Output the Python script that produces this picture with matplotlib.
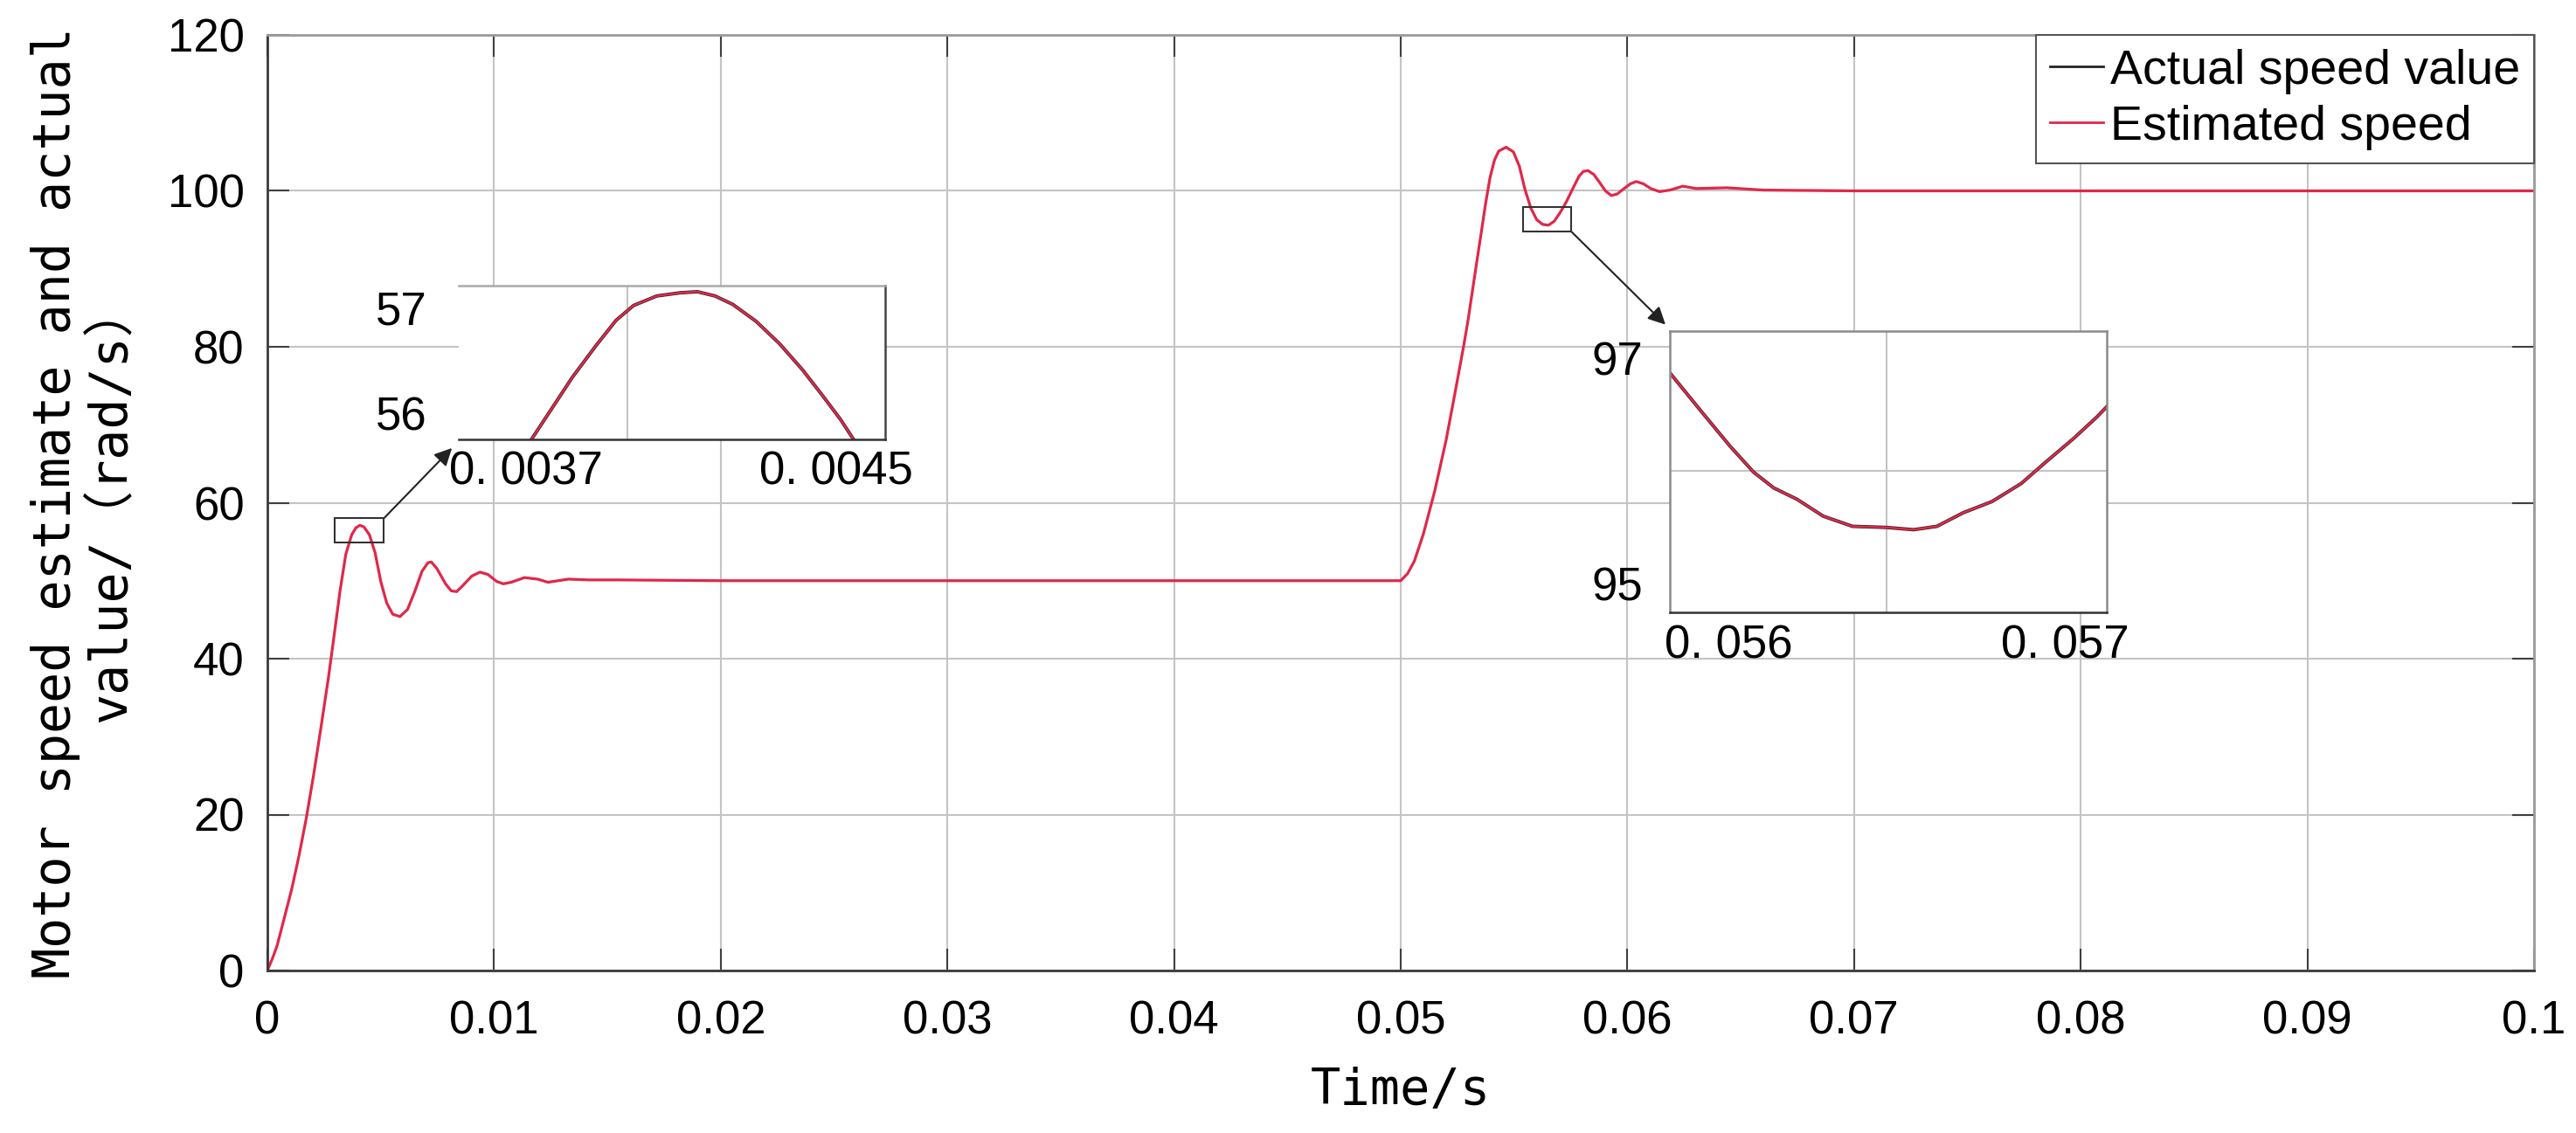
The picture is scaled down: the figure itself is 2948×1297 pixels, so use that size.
import matplotlib.pyplot as plt
import numpy as np
from matplotlib.patches import Rectangle
from matplotlib.lines import Line2D

plt.rcParams['font.family'] = ['Liberation Sans', 'DejaVu Sans']

# main curve (time in ms, speed in rad/s)
time_ms = [0, 0.23, 0.43, 0.75, 1.07, 1.40, 1.72, 2.04, 2.36, 2.69, 2.95, 3.20, 3.46, 3.72,
           3.91, 4.08, 4.26, 4.50, 4.75, 5.01, 5.27, 5.53, 5.85, 6.18, 6.50, 6.82, 7.08, 7.23,
           7.47, 7.86, 8.11, 8.35, 8.63, 9.02, 9.38, 9.73, 10.12, 10.41, 10.76, 11.34, 11.92,
           12.38, 13.28, 14.19, 15.48, 20, 30, 40,
           50, 50.3, 50.6, 51.0, 51.5, 52.0, 52.39, 52.58, 52.77, 52.97, 53.16, 53.35, 53.55,
           53.74, 53.94, 54.13, 54.32, 54.65, 54.97, 55.23, 55.48, 55.74, 56.0, 56.26, 56.52,
           56.77, 57.03, 57.29, 57.61, 57.87, 58.06, 58.26, 58.52, 58.77, 59.03, 59.29, 59.55,
           59.81, 60.13, 60.39, 60.71, 61.03, 61.42, 61.87, 62.45, 63.03, 64.39, 66.0, 70, 80,
           90, 100]
speed = [0, 1.6, 3.2, 6.8, 10.4, 14.8, 19.6, 25.1, 31.1, 37.5, 43.1, 48.6, 53.4, 55.9,
         56.8, 57.1, 56.9, 55.9, 53.6, 49.8, 47.1, 45.7, 45.4, 46.3, 48.6, 51.2, 52.3, 52.4,
         51.6, 49.6, 48.7, 48.6, 49.4, 50.6, 51.1, 50.8, 49.9, 49.6, 49.8, 50.4, 50.2,
         49.8, 50.2, 50.1, 50.1, 50, 50, 50,
         50, 50.9, 52.5, 56.0, 61.5, 68.0, 74.0, 77.0, 80.0, 83.4, 87.1, 90.8, 94.6,
         98.3, 101.7, 103.9, 105.1, 105.6, 105.0, 103.2, 100.2, 97.8, 96.3, 95.7, 95.6,
         96.1, 97.2, 98.5, 100.4, 101.9, 102.5, 102.6, 102.1, 101.1, 100.0, 99.4, 99.6,
         100.2, 100.9, 101.2, 100.9, 100.3, 99.9, 100.1, 100.6, 100.3, 100.4, 100.1, 100, 100,
         100, 100]

# zoom 1 (first overshoot), time in s
z1_time = [0.003714, 0.003767, 0.003819, 0.00388, 0.003932, 0.003977, 0.004037, 0.004097,
           0.004142, 0.004187, 0.004233, 0.004293, 0.004353, 0.004413, 0.004466, 0.004511, 0.004544]
z1_speed = [55.755, 56.05, 56.34, 56.64, 56.88, 57.02, 57.11, 57.14,
            57.15, 57.11, 57.03, 56.87, 56.66, 56.41, 56.16, 55.94, 55.755]

# zoom 2 (second undershoot), time in s
z2_time = [0.055826, 0.055919, 0.056005, 0.056075, 0.056135, 0.056204, 0.056282, 0.056369, 0.056471,
           0.056551, 0.05662, 0.056698, 0.056784, 0.056871, 0.05694, 0.057027, 0.057096, 0.057125]
z2_speed = [96.87, 96.53, 96.22, 95.99, 95.85, 95.75, 95.60, 95.51, 95.50,
            95.48, 95.51, 95.63, 95.73, 95.89, 96.07, 96.29, 96.48, 96.57]

labels = ['Actual speed value', 'Estimated speed']
xticks = [0, 0.01, 0.02, 0.03, 0.04, 0.05, 0.06, 0.07, 0.08, 0.09, 0.1]
xtick_labels = ['0', '0.01', '0.02', '0.03', '0.04', '0.05', '0.06', '0.07', '0.08', '0.09', '0.1']
yticks = [0, 20, 40, 60, 80, 100, 120]

RED = '#e0284a'
BLK = '#222222'
GRID = '#c4c4c4'
W, H = 2948, 1297
t = np.array(time_ms) / 1000

fig = plt.figure(figsize=(W / 100, H / 100), dpi=100)
ax = fig.add_axes([306 / W, 1 - 1111 / H, 2594 / W, 1071 / H])

ax.plot(t, speed, color=BLK, lw=1.2, label=labels[0])
ax.plot(t, speed, color=RED, lw=2.3, label=labels[1])
ax.set_xlim(0, 0.1)
ax.set_ylim(0, 120)
ax.set_xticks(xticks)
ax.set_xticklabels(xtick_labels)
ax.set_yticks(yticks)
ax.grid(True, color=GRID, lw=1.5)
ax.set_axisbelow(True)
ax.tick_params(direction='in', length=18, width=1.5, color='#404040', top=True, right=True,
               labelsize=38)
ax.tick_params(axis='x', pad=24)
ax.tick_params(axis='y', pad=19)
for s in ['left', 'bottom']:
    ax.spines[s].set_color('#3a3a3a')
    ax.spines[s].set_linewidth(2)
for s in ['top', 'right']:
    ax.spines[s].set_color('#9a9a9a')
    ax.spines[s].set_linewidth(2)

mono = ['DejaVu Sans Mono', 'Noto Sans CJK SC']
ax.set_xlabel('Time/s', family=mono, fontsize=41)
ax.xaxis.set_label_coords(0.5, -0.103)
ax.set_ylabel('Motor speed estimate and actual\nvalue/（rad/s）', family=mono, fontsize=42,
              linespacing=1.15)
ax.yaxis.set_label_coords(-0.058, 0.5)

handles = [Line2D([], [], color=BLK, lw=2), Line2D([], [], color=RED, lw=2)]
leg = ax.legend(handles, labels, loc='upper right', bbox_to_anchor=(1, 1), borderaxespad=0,
                fontsize=40, handlelength=1.1, handletextpad=0.15, borderpad=0.28,
                labelspacing=0.22, fancybox=False, edgecolor='#555555', framealpha=1)
leg.get_frame().set_linewidth(1.5)

# zoom rectangles on main plot
ax.add_patch(Rectangle((0.00298, 54.9), 0.00216, 3.1, fill=False, ec='#333333', lw=1.5, zorder=5))
ax.add_patch(Rectangle((0.05538, 94.8), 0.00214, 3.1, fill=False, ec='#333333', lw=1.5, zorder=5))


def style_inset(a):
    a.set_facecolor('white')
    a.tick_params(which='both', length=0, labelsize=38)
    a.grid(which='minor', color=GRID, lw=1.5)
    a.set_axisbelow(True)
    for s in a.spines.values():
        s.set_linewidth(1.8)


ins1 = fig.add_axes([525 / W, 1 - 502.7 / H, 488 / W, 176 / H])
ins1.plot(z1_time, z1_speed, color=BLK, lw=2.8)
ins1.plot(z1_time, z1_speed, color=RED, lw=1.8)
ins1.set_xlim(0.003526, 0.004626)
ins1.set_ylim(55.755, 57.21)
ins1.set_xticks([0.0037, 0.0045])
ins1.set_xticklabels(['0. 0037', '0. 0045'])
ins1.set_xticks([0.00396], minor=True)
ins1.set_yticks([56, 57])
style_inset(ins1)
ins1.tick_params(axis='x', pad=9)
ins1.tick_params(axis='y', pad=26)
ins1.spines['left'].set_visible(False)
ins1.spines['top'].set_color('#aaaaaa')
ins1.spines['right'].set_color('#444444')
ins1.spines['bottom'].set_color('#333333')

ins2 = fig.add_axes([1911 / W, 1 - 700.7 / H, 500 / W, 321.7 / H])
ins2.plot(z2_time, z2_speed, color=BLK, lw=2.8)
ins2.plot(z2_time, z2_speed, color=RED, lw=1.8)
ins2.set_xlim(0.055826, 0.057125)
ins2.set_ylim(94.75, 97.24)
ins2.set_xticks([0.056, 0.057])
ins2.set_xticklabels(['0. 056', '0. 057'])
ins2.set_xticks([0.05647], minor=True)
ins2.set_yticks([95, 97])
ins2.set_yticks([96], minor=True)
style_inset(ins2)
ins2.tick_params(axis='x', pad=10)
ins2.tick_params(axis='y', pad=22)
for s in ['left', 'top', 'right']:
    ins2.spines[s].set_color('#8a8a8a')
ins2.spines['bottom'].set_color('#333333')

arrow = dict(arrowstyle='-|>', color='#222222', lw=1.5, mutation_scale=30, shrinkA=0, shrinkB=0)
ax.annotate('', xy=(-0.016, -0.058), xycoords=ins1.transAxes,
            xytext=(0.00514, 58.0), textcoords='data', arrowprops=arrow)
ax.annotate('', xy=(-0.01, 1.023), xycoords=ins2.transAxes,
            xytext=(0.05752, 94.8), textcoords='data', arrowprops=arrow)

fig.savefig('out.png', dpi=100)
